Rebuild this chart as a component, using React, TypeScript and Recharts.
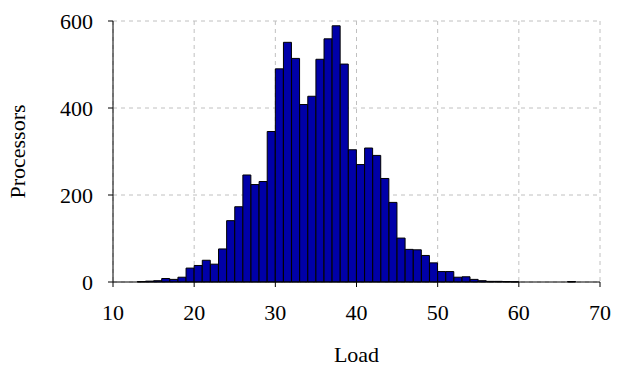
import { BarChart, Bar, XAxis, YAxis, CartesianGrid, Label } from 'recharts';

// histogram bins: load value i covers [i, i+1)
const loads = [
  10, 11, 12, 13, 14, 15, 16, 17, 18, 19,
  20, 21, 22, 23, 24, 25, 26, 27, 28, 29,
  30, 31, 32, 33, 34, 35, 36, 37, 38, 39,
  40, 41, 42, 43, 44, 45, 46, 47, 48, 49,
  50, 51, 52, 53, 54, 55, 56, 57, 58, 59,
  60, 61, 62, 63, 64, 65, 66, 67, 68, 69,
];
const processors = [
  0, 0, 0, 1, 2, 3, 8, 6, 11, 32,
  38, 50, 41, 76, 141, 173, 246, 224, 231, 346,
  490, 551, 514, 408, 427, 512, 559, 589, 501, 304,
  270, 308, 291, 238, 183, 101, 75, 74, 61, 44,
  24, 24, 11, 12, 6, 3, 1.5, 1.5, 1, 0.5,
  0, 0, 0, 0, 0, 0, 1, 0, 0, 0,
];
const xTicks = [10, 20, 30, 40, 50, 60, 70];
const yTicks = [0, 200, 400, 600];

const data = loads.map((l, i) => ({ x: l + 0.5, count: processors[i] }));

const serif = 'Liberation Serif, Times New Roman, serif';
const font = { fontFamily: serif, fontSize: 22, fill: '#000', style: { fontFamily: serif } };
const labelStyle = { fontFamily: serif, fontSize: 22, fill: '#000' };

export default function App() {
  return (
    <div style={{ position: 'absolute', left: 0, top: 0, background: '#fff', fontFamily: serif }}>
      <BarChart
        width={621}
        height={366}
        data={data}
        margin={{ top: 21, right: 21, left: 53, bottom: 44 }}
        barCategoryGap={0}
        barGap={0}
        style={{ fontFamily: serif }}
      >
        <CartesianGrid stroke="#c0c0c0" strokeDasharray="4 4" />
        <XAxis
          dataKey="x"
          type="number"
          domain={[10, 70]}
          ticks={xTicks}
          height={40}
          tick={font}
          tickSize={5}
          tickMargin={17}
          stroke="#000"
          allowDataOverflow
        >
          <Label value="Load" position="insideBottom" offset={-40} style={labelStyle} />
        </XAxis>
        <XAxis xAxisId="top" orientation="top" dataKey="x" type="number" domain={[10, 70]} tick={false} tickLine={false} height={0} stroke="#000" />
        <YAxis
          type="number"
          domain={[0, 600]}
          ticks={yTicks}
          width={60}
          tick={font}
          tickSize={5}
          tickMargin={15}
          stroke="#000"
        >
          <Label value="Processors" angle={-90} position="insideLeft" offset={-36} style={{ ...labelStyle, textAnchor: 'middle' }} />
        </YAxis>
        <YAxis yAxisId="right" orientation="right" domain={[0, 600]} tick={false} tickLine={false} width={0} stroke="#000" />
        <Bar dataKey="count" fill="#0000a8" stroke="#000" strokeWidth={1} isAnimationActive={false} />
      </BarChart>
    </div>
  );
}
